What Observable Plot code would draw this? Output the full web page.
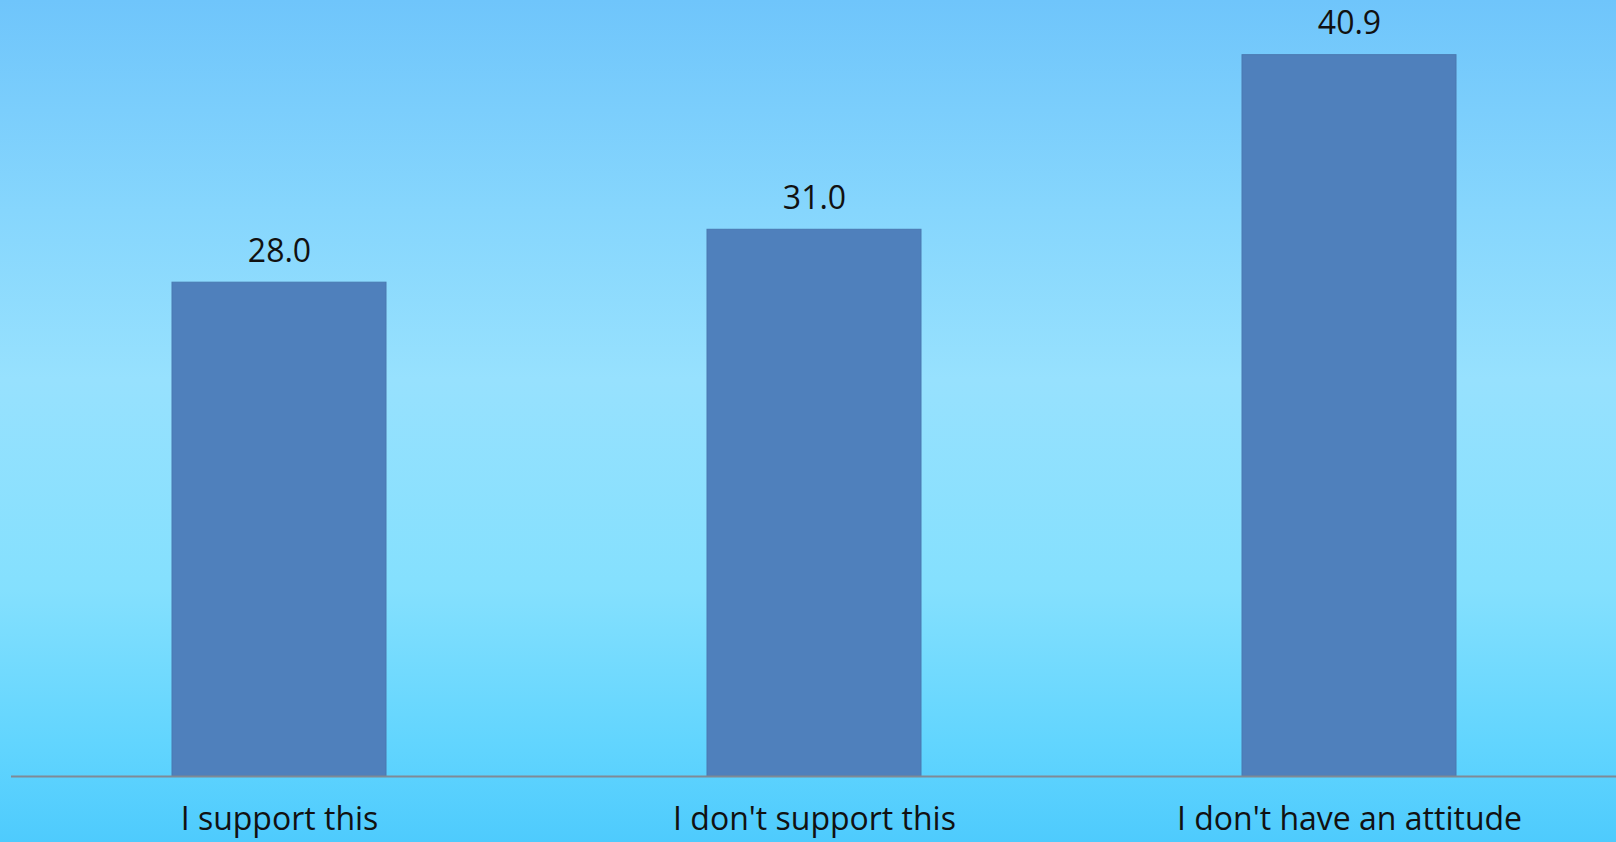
<!DOCTYPE html>
<html>
<head>
<meta charset="utf-8">
<script src="https://cdn.jsdelivr.net/npm/d3@7"></script>
<script src="https://cdn.jsdelivr.net/npm/@observablehq/plot@0.6"></script>
<style>
html, body { margin: 0; padding: 0; }
body {
  width: 1616px; height: 842px; overflow: hidden;
  background: linear-gradient(to bottom, #6fc5fb 0%, #86d6fd 25%, #97e1fe 45%, #84e0fe 70%, #62d5fe 88%, #4ecbfd 100%);
}
#chart svg { display: block; }
</style>
</head>
<body>
<div id="chart"></div>
<script>
const categories = ["I support this", "I don't support this", "I don't have an attitude"];
const values = [28.0, 31.0, 40.9];

const data = categories.map((c, i) => ({category: c, value: values[i]}));

const chart = Plot.plot({
  width: 1616,
  height: 842,
  marginTop: 0,
  marginBottom: 66,
  marginLeft: 11,
  marginRight: 0,
  style: {background: "transparent", fontFamily: "'Open Sans', sans-serif", color: "#111"},
  x: {domain: categories, paddingInner: 0.6, paddingOuter: 0.3, label: null},
  y: {domain: [0, 44], axis: null},
  marks: [
    Plot.barY(data, {x: "category", y: "value", fill: "#4f80bc", stroke: "#4a78b0", strokeWidth: 1}),
    Plot.ruleY([0], {stroke: "#7f8a96", strokeWidth: 2}),
    Plot.text(data, {x: "category", y: "value", text: d => d.value.toFixed(1), dy: -31, fontSize: 32, fill: "#111"}),
    Plot.axisX({tickSize: 0, tickPadding: 31, fontSize: 32, label: null, fill: "#111"})
  ]
});
document.getElementById("chart").appendChild(chart);
</script>
</body>
</html>
